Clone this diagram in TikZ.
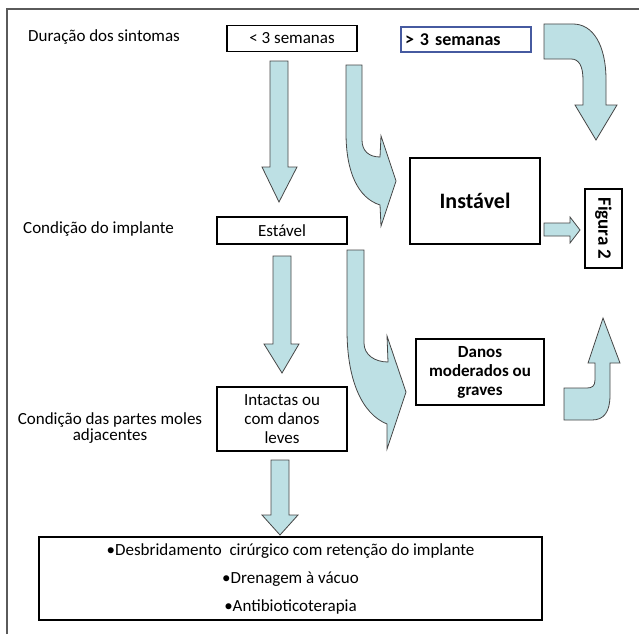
\documentclass[tikz,border=0pt]{standalone}
\usepackage{fontspec}
\setmainfont{Carlito}
\definecolor{arrowfill}{RGB}{189,224,228}
\definecolor{arrowline}{RGB}{70,70,70}
\definecolor{framecol}{RGB}{90,90,90}
\definecolor{boxblue}{RGB}{70,90,160}
\begin{document}
\begin{tikzpicture}[x=1pt,y=-1pt,
  blk/.style={draw=arrowline, fill=arrowfill, line width=0.8pt, line join=miter},
  box/.style={draw=black, line width=1.4pt, inner sep=0pt, align=center},
  lbl/.style={font=\fontsize{17}{20}\selectfont, inner sep=0pt},
  framestyle/.style={draw=framecol, line width=1.4pt}]
\useasboundingbox (0,0) rectangle (639,634);
\draw[framestyle] (7,634) -- (7,9) -- (639,9);

% labels
\node[lbl, anchor=west] (dur) at (28,37) {Duração dos sintomas};
\node[lbl, anchor=west] (cimp) at (23,229) {Condição do implante};
\node[lbl, align=center, font=\fontsize{17}{12.5}\selectfont] (cpm) at (110,428) {Condição das partes moles\\adjacentes};

% boxes
\node[box, lbl, minimum width=130, minimum height=26] (lt3) at (292,38.5) {< 3 semanas};
\node[draw=boxblue, line width=1.2pt, text width=122pt, inner xsep=4pt, inner ysep=0pt,
      minimum height=25, align=left, font=\fontsize{18}{20}\selectfont\bfseries] (gt3) at (466,39.5) {> 3 semanas};
\node[box, lbl, minimum width=130, minimum height=27] (est) at (282,230.5) {Estável};
\node[box, lbl, font=\fontsize{17}{19}\selectfont, minimum width=130, minimum height=64] (int) at (282,419) {Intactas ou\\com danos\\leves};
\node[box, font=\fontsize{22}{24}\selectfont\bfseries, minimum width=130, minimum height=86] (inst) at (475,201) {Instável};
\node[box, rotate=-90, font=\fontsize{19}{20}\selectfont\bfseries, minimum width=79, minimum height=37] (fig) at (603.5,228.5) {Figura 2};
\node[box, font=\fontsize{17}{19}\selectfont\bfseries, minimum width=128, minimum height=66] (dan) at (480,372) {Danos\\moderados ou\\graves};
\node[box, font=\fontsize{17}{28}\selectfont, minimum width=503, minimum height=83] (trat) at (290.5,578.5)
  {•Desbridamento\ \ cirúrgico com retenção do implante\\•Drenagem à vácuo\\•Antibioticoterapia};

% straight block arrows
\draw[blk] (270,61) -- (288,61) -- (288,167) -- (297,167) -- (279,202) -- (262,167) -- (270,167) -- cycle;
\draw[blk] (273,256) -- (291,256) -- (291,344) -- (299,344) -- (282,373) -- (264,344) -- (273,344) -- cycle;
\draw[blk] (271,460) -- (289,460) -- (289,515) -- (298,515) -- (280,535) -- (262,515) -- (271,515) -- cycle;

% curved block arrows
\draw[blk] (346,65) -- (362,65) -- (362,140) .. controls (362,151) and (369,157) .. (380,157)
  -- (381,136) -- (396,181) -- (381,226) -- (380,205) .. controls (358,198) and (346,172) .. (346,133) -- cycle;
\draw[blk] (347,250) -- (364,250) -- (364,343) .. controls (364,355) and (375,362) .. (388,362)
  -- (387,336) -- (406,392) -- (387,449) -- (387,424) .. controls (362,414) and (347,380) .. (347,330) -- cycle;
\draw[blk] (544,24) -- (573,24) .. controls (593,24) and (606,45) .. (606,80) -- (606,105) -- (617,105)
  -- (596,140) -- (575,105) -- (583,105) -- (583,80) .. controls (583,66) and (579,59) .. (571,59) -- (544,59) -- cycle;
\draw[blk] (564,420) -- (592,420) .. controls (604,420) and (610,412) .. (610,395) -- (610,363) -- (620,363)
  -- (603,318) -- (588,363) -- (595,363) -- (595,380) .. controls (595,386) and (592,388) .. (587,388) -- (564,388) -- cycle;
\draw[blk] (544,223) -- (570,223) -- (570,217) -- (580,230) -- (570,243) -- (570,236) -- (544,236) -- cycle;
\end{tikzpicture}
\end{document}
